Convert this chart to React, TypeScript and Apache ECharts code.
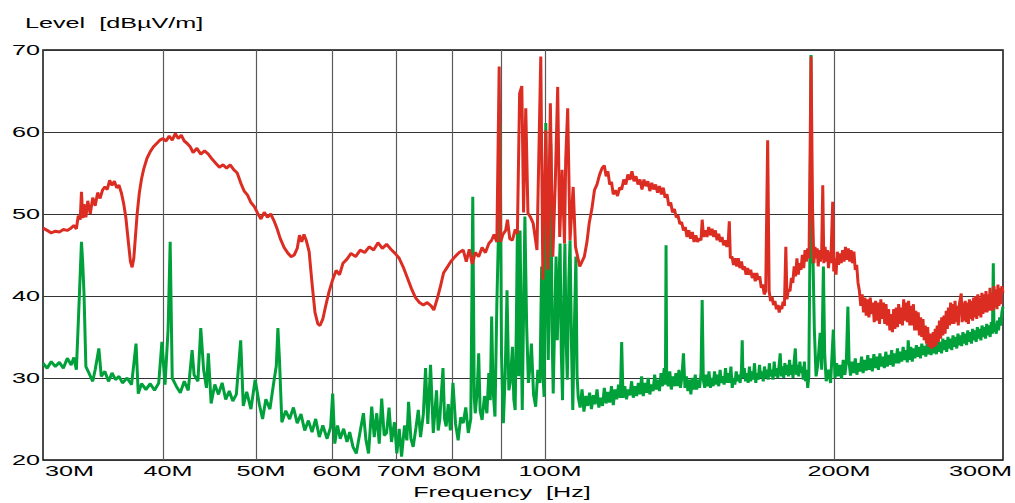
import React, { useEffect, useRef } from "react";
import * as echarts from "echarts";

// Frequency in MHz, level in dBµV/m
const RED: [number, number][] = [
[30.0,48.3],[30.3,48.0],[30.6,47.7],[30.9,47.9],[31.2,47.8],[31.5,48.1],[31.8,48.0],[32.1,48.3],[32.3,48.6],[32.5,48.2],[32.65,49.8],[32.8,49.3],[32.9,52.7],[33.0,49.5],[33.1,51.2],[33.25,49.6],[33.4,51.6],[33.6,50.0],[33.8,52.0],[34.0,51.0],[34.2,52.6],[34.4,51.9],[34.6,52.9],[34.8,53.3],[35.0,53.0],[35.2,54.1],[35.4,53.5],[35.6,54.0],[35.8,53.2],[36.0,53.5],[36.2,52.6],[36.4,51.3],[36.6,49.5],[36.8,46.8],[37.0,44.2],[37.15,43.5],[37.3,44.6],[37.45,47.3],[37.6,50.0],[37.8,52.6],[38.0,54.3],[38.2,55.5],[38.5,56.8],[38.8,57.6],[39.1,58.2],[39.4,58.6],[39.7,59.0],[40.0,59.2],[40.3,58.9],[40.6,59.5],[40.9,59.0],[41.2,59.8],[41.5,59.2],[41.8,59.6],[42.1,58.9],[42.4,58.6],[42.7,58.2],[43.0,57.5],[43.4,58.0],[43.8,57.3],[44.2,57.7],[44.6,57.3],[45.0,56.7],[45.4,56.2],[45.8,55.7],[46.2,56.0],[46.6,55.6],[47.0,56.0],[47.4,55.4],[47.8,55.0],[48.2,53.8],[48.6,52.8],[49.0,52.3],[49.4,51.4],[49.8,50.9],[50.2,50.1],[50.6,49.4],[51.0,50.2],[51.4,49.6],[51.8,50.0],[52.2,49.2],[52.6,48.2],[53.0,47.0],[53.5,45.9],[54.0,45.2],[54.4,44.8],[54.8,45.0],[55.2,45.8],[55.5,47.4],[55.8,46.6],[56.1,47.5],[56.4,46.8],[56.8,45.4],[57.2,41.5],[57.6,38.0],[58.0,36.6],[58.3,36.4],[58.7,37.2],[59.1,38.8],[59.6,40.6],[60.1,42.0],[60.6,43.1],[61.1,42.6],[61.6,44.0],[62.2,44.5],[62.8,45.2],[63.5,44.8],[64.2,45.6],[64.9,45.3],[65.6,46.0],[66.3,45.6],[67.0,46.5],[67.7,45.8],[68.4,46.3],[69.1,45.7],[69.8,45.2],[70.5,44.6],[71.2,43.5],[71.9,42.2],[72.6,40.9],[73.3,39.8],[74.0,39.2],[74.7,38.9],[75.4,39.2],[76.1,38.8],[76.6,38.3],[77.2,39.6],[77.8,41.1],[78.4,42.8],[79.0,43.4],[79.8,44.2],[80.6,44.8],[81.4,45.3],[82.2,45.6],[82.8,44.2],[83.4,45.7],[84.0,43.9],[84.6,45.3],[85.3,44.8],[86.0,45.9],[86.7,45.3],[87.4,46.4],[88.0,46.8],[88.5,47.5],[89.1,46.6],[89.6,68.0],[89.9,46.6],[90.4,47.5],[91.0,48.0],[91.4,49.3],[91.9,47.0],[92.5,46.8],[93.1,48.1],[93.6,47.6],[94.1,64.7],[94.6,65.6],[95.0,50.2],[95.5,62.9],[96.0,50.1],[96.6,49.6],[97.2,48.9],[98.1,45.6],[99.0,69.2],[99.5,42.0],[100.2,60.2],[100.7,43.2],[101.3,63.5],[101.9,44.8],[102.5,53.7],[103.1,65.5],[103.6,47.2],[104.2,55.4],[104.8,46.4],[105.1,56.6],[105.6,62.9],[106.2,46.8],[107.0,53.3],[107.6,46.0],[108.7,43.6],[109.9,44.8],[110.6,46.6],[111.2,48.9],[111.9,50.6],[112.6,52.9],[113.3,53.6],[114.0,54.8],[114.7,55.6],[115.3,55.9],[115.8,54.6],[116.3,55.2],[116.8,53.6],[117.3,53.9],[117.8,52.4],[118.4,52.9],[119.0,52.2],[119.6,53.2],[120.2,53.0],[120.8,54.2],[121.4,53.6],[122.0,54.8],[122.6,54.2],[123.2,55.2],[123.8,54.0],[124.4,54.6],[125.0,53.6],[125.6,54.2],[126.2,53.0],[126.8,54.2],[127.4,53.4],[128.0,54.0],[128.6,52.8],[129.2,53.8],[129.8,53.0],[130.4,53.6],[131.0,52.6],[131.6,53.4],[132.2,52.4],[132.8,53.2],[133.4,52.0],[134.0,52.4],[134.6,51.0],[135.2,51.4],[135.8,50.2],[136.4,50.6],[137.0,49.6],[137.6,49.8],[138.2,48.8],[138.8,49.0],[139.4,48.0],[140.0,48.4],[140.6,47.2],[141.2,48.0],[141.8,47.0],[142.4,47.8],[143.0,46.6],[143.6,47.4],[144.2,46.6],[144.8,47.0],[145.4,46.8],[145.8,49.3],[146.3,47.2],[146.9,48.0],[147.5,47.2],[148.1,48.4],[148.7,47.4],[149.3,48.2],[149.9,47.2],[150.5,48.0],[151.1,46.8],[151.7,47.6],[152.3,46.6],[152.9,47.2],[153.5,46.2],[154.1,46.8],[154.7,46.0],[155.2,46.6],[155.6,49.1],[156.0,44.6],[156.6,44.8],[157.2,43.8],[157.8,44.6],[158.4,43.6],[159.0,44.6],[159.6,43.4],[160.2,44.2],[160.8,43.2],[161.4,43.6],[162.0,42.6],[162.6,43.4],[163.2,42.6],[163.8,43.2],[164.4,42.2],[165.0,42.8],[165.6,41.8],[166.2,42.8],[166.8,42.0],[167.4,42.4],[168.0,41.0],[168.6,41.4],[169.2,40.2],[169.8,40.6],[170.6,59.0],[171.2,40.6],[171.8,39.4],[172.4,39.9],[173.0,38.9],[173.6,39.4],[174.2,38.4],[174.8,38.9],[175.4,38.0],[175.9,38.8],[176.5,38.4],[177.0,39.3],[177.6,38.8],[178.2,46.0],[178.7,39.6],[179.3,40.8],[180.0,40.6],[180.6,42.2],[181.2,41.6],[181.8,43.6],[182.4,42.4],[183.0,44.6],[183.6,42.6],[184.2,44.0],[184.8,43.2],[185.4,45.0],[186.0,43.4],[186.6,45.6],[187.2,44.2],[187.8,45.8],[188.4,44.6],[189.3,69.2],[190.0,50.5],[190.6,44.0],[191.1,46.0],[191.6,44.6],[192.1,45.8],[192.6,43.6],[193.1,45.6],[193.6,44.2],[194.2,45.6],[194.7,53.5],[195.2,44.0],[195.8,46.0],[196.4,44.2],[196.9,45.6],[197.4,43.4],[198.0,45.4],[198.5,44.0],[199.4,51.5],[199.9,43.0],[200.4,44.6],[201.0,42.6],[201.6,45.4],[202.2,43.8],[202.8,45.2],[203.5,44.0],[204.2,45.6],[204.9,44.2],[205.6,46.0],[206.3,44.4],[207.0,45.8],[207.7,44.2],[208.4,45.6],[209.1,44.0],[209.8,45.4],[210.5,43.2],[211.2,43.8],[211.9,41.6],
[212.6,40.6],[213.3,38.8],[214.0,40.2],[214.7,38.0],[215.4,39.8],[216.1,37.6],[216.8,39.6],[217.5,37.4],[218.2,39.8],[218.9,37.8],[219.6,39.2],[220.3,36.8],[221.0,39.4],[221.7,37.0],[222.4,39.2],[223.1,36.6],[223.8,39.6],[224.5,37.2],[225.2,39.2],[225.9,36.6],[226.6,39.0],[227.3,36.4],[228.0,38.4],[228.7,35.8],[229.4,37.8],[230.1,35.6],[230.8,38.4],[231.5,36.0],[232.2,38.6],[232.9,36.2],[233.6,39.0],[234.3,36.6],[235.0,38.6],[235.7,36.4],[236.4,39.6],[237.1,37.0],[237.8,39.2],[238.5,36.8],[239.2,39.4],[239.9,36.4],[240.6,38.8],[241.3,36.4],[242.0,39.0],[242.7,35.8],[243.4,38.2],[244.1,35.8],[244.8,38.0],[245.5,35.2],[246.2,37.4],[246.9,35.0],[247.6,37.2],[248.3,34.6],[249.0,36.4],[249.7,34.2],[250.4,36.2],[251.1,33.8],[251.8,35.4],[252.8,33.6],[253.8,35.6],[254.4,33.8],[255.0,36.0],[255.6,34.0],[256.2,36.4],[256.9,34.4],[257.6,37.0],[258.3,34.8],[259.0,37.4],[259.7,35.2],[260.4,37.6],[261.1,35.4],[261.8,38.2],[262.5,36.0],[263.2,38.6],[263.9,36.4],[264.6,39.2],[265.3,36.6],[266.0,39.0],[266.7,36.6],[267.4,39.4],[268.1,36.8],[268.8,38.8],[269.5,36.4],[270.2,39.0],[271.4,40.3],[272.0,36.8],[272.6,39.2],[273.3,37.0],[274.0,39.4],[274.7,36.8],[275.4,39.2],[276.1,36.6],[276.8,39.6],[277.5,37.2],[278.2,39.4],[278.9,37.0],[279.6,39.8],[280.3,37.4],[281.0,40.0],[281.7,37.2],[282.4,40.2],[283.1,37.6],[283.8,39.8],[284.5,37.4],[285.2,40.4],[285.9,37.8],[286.6,40.2],[287.3,38.0],[288.0,40.6],[288.7,38.0],[289.4,40.2],[290.1,38.2],[290.8,41.0],[291.5,38.2],[292.2,40.4],[292.9,38.2],[293.6,41.2],[294.3,38.6],[295.0,40.8],[295.7,38.4],[296.4,41.4],[297.1,38.8],[297.8,41.0],[298.5,39.0],[299.2,41.2],[300.0,40.4]
];

const GREEN: [number, number][] = [
[30.0,31.8],[30.3,31.2],[30.6,32.0],[30.9,31.4],[31.2,31.9],[31.5,31.2],[31.8,32.4],[32.1,31.6],[32.3,32.5],[32.5,31.0],[32.7,38.7],[32.9,46.6],[33.0,44.0],[33.1,40.3],[33.25,31.4],[33.5,30.6],[33.8,29.6],[34.0,31.0],[34.3,33.6],[34.5,30.2],[34.8,30.8],[35.1,29.6],[35.4,30.6],[35.7,29.8],[36.0,30.2],[36.3,29.4],[36.7,30.0],[37.1,29.2],[37.5,34.2],[37.7,28.1],[38.0,29.3],[38.4,28.6],[38.8,29.3],[39.2,28.5],[39.6,29.4],[39.9,34.4],[40.2,29.2],[40.5,36.0],[40.7,46.6],[40.9,30.0],[41.3,29.0],[41.7,28.2],[42.1,29.6],[42.5,28.5],[42.9,33.4],[43.1,30.4],[43.5,29.6],[43.8,36.1],[44.1,31.0],[44.4,28.8],[44.6,33.0],[44.9,26.9],[45.3,29.2],[45.7,28.0],[46.1,29.4],[46.5,27.4],[46.9,28.4],[47.3,27.2],[47.7,28.0],[48.2,34.6],[48.5,26.6],[48.9,28.3],[49.4,26.2],[49.9,29.8],[50.4,26.8],[50.8,25.0],[51.2,27.4],[51.7,26.2],[52.2,29.6],[52.5,31.5],[52.7,36.1],[52.9,32.2],[53.2,24.6],[53.7,26.0],[54.2,25.0],[54.7,26.4],[55.2,24.5],[55.7,25.6],[56.2,23.6],[56.7,24.8],[57.2,23.4],[57.7,25.0],[58.2,22.8],[58.7,24.2],[59.3,22.6],[59.8,24.0],[60.1,28.1],[60.4,22.0],[60.8,24.2],[61.2,22.6],[61.7,23.8],[62.2,22.2],[62.6,23.4],[63.1,21.6],[63.6,20.8],[64.2,23.5],[64.7,25.7],[65.1,22.4],[65.5,20.8],[66.0,26.5],[66.4,22.8],[66.8,25.7],[67.2,22.0],[67.6,27.5],[68.0,23.0],[68.4,23.3],[68.8,26.4],[69.2,22.2],[69.7,24.6],[70.1,20.8],[70.5,23.8],[70.9,20.4],[71.4,24.2],[71.8,22.4],[72.1,27.1],[72.5,22.6],[72.9,21.6],[73.4,24.0],[73.8,26.1],[74.2,22.8],[74.7,25.6],[75.1,31.2],[75.5,24.4],[76.0,31.6],[76.5,23.3],[77.1,28.5],[77.4,23.6],[77.7,24.9],[78.3,31.2],[78.6,25.0],[78.9,24.1],[79.3,26.8],[79.7,23.6],[80.2,29.4],[80.7,24.4],[81.2,22.4],[81.7,25.2],[82.2,24.5],[82.7,26.4],[83.2,23.3],[83.7,25.0],[84.1,52.1],[84.4,27.6],[84.6,25.7],[85.0,28.4],[85.3,33.0],[85.6,26.0],[86.0,24.9],[86.5,27.8],[87.0,25.7],[87.4,30.6],[87.7,27.3],[88.0,37.5],[88.3,28.5],[88.7,25.3],[89.1,39.1],[89.4,46.4],[89.8,61.0],[90.1,33.0],[90.5,24.5],[90.9,30.4],[91.3,40.7],[91.7,28.5],[92.0,29.4],[92.5,33.8],[92.8,27.4],[93.1,26.1],[93.4,38.0],[93.6,48.0],[93.9,30.2],[94.2,48.0],[94.5,34.0],[94.7,26.1],[95.0,38.0],[95.3,49.7],[95.7,36.4],[96.1,29.4],[96.5,31.6],[96.8,34.2],[97.3,28.0],[97.8,26.5],[98.3,31.0],[98.8,29.4],[99.2,43.6],[99.5,30.6],[99.8,27.7],[100.2,61.1],[100.5,40.0],[100.8,32.2],[101.1,44.6],[101.4,58.6],[101.7,36.0],[102.0,28.1],[102.4,38.2],[102.7,44.8],[103.0,34.6],[103.3,40.2],[103.7,46.4],[104.0,33.0],[104.3,27.3],[104.6,38.6],[104.9,46.4],[105.2,34.8],[105.5,29.8],[105.9,42.0],[106.2,46.8],[106.6,33.2],[106.9,26.1],[107.3,36.0],[107.7,44.8],[108.0,30.4],
[108.3,27.7],[108.8,26.4],[109.3,28.6],[109.8,25.9],[110.3,27.8],[110.8,26.6],[111.3,28.2],[111.8,26.2],[112.3,27.9],[112.8,26.8],[113.3,28.6],[113.8,26.4],[114.3,27.6],[114.8,26.6],[115.3,28.8],[115.8,26.9],[116.3,28.3],[116.8,27.0],[117.3,29.0],[117.8,26.7],[118.3,28.6],[118.8,27.4],[119.3,29.2],[119.8,27.6],[120.2,34.4],[120.6,27.6],[121.1,29.0],[121.6,27.4],[122.1,28.6],[122.6,27.9],[123.1,29.6],[123.6,27.6],[124.1,29.0],[124.6,27.8],[125.1,29.4],[125.6,28.0],[126.1,30.2],[126.6,27.8],[127.1,29.4],[127.6,28.2],[128.1,30.0],[128.6,28.0],[129.1,29.2],[129.6,28.4],[130.1,30.4],[130.6,28.6],[131.1,29.8],[131.6,28.4],[132.1,30.6],[132.6,29.0],[133.1,31.2],[133.5,29.2],[133.7,46.2],[133.9,30.0],[134.4,29.0],[134.9,30.8],[135.4,28.6],[135.9,30.2],[136.4,29.0],[136.9,30.6],[137.4,29.0],[137.9,31.0],[138.4,28.8],[138.9,30.2],[139.4,33.0],[139.9,28.8],[140.4,30.2],[140.9,28.4],[141.4,29.8],[141.9,28.0],[142.4,30.0],[142.9,28.6],[143.4,30.4],[143.9,28.6],[144.4,29.8],[144.9,28.8],[145.4,30.6],[145.8,39.5],[146.2,29.8],[146.7,28.8],[147.2,30.4],[147.7,29.0],[148.2,30.8],[148.7,28.8],[149.2,30.0],[149.7,29.0],[150.2,30.8],[150.7,29.2],[151.2,30.4],[151.7,29.0],[152.2,31.0],[152.7,29.4],[153.2,30.2],[153.7,29.2],[154.2,31.2],[154.7,29.4],[155.2,30.6],[155.7,29.4],[156.2,31.4],[156.7,28.8],[157.2,30.0],[157.7,29.2],[158.2,30.8],[158.7,29.6],[159.2,30.4],[159.7,29.4],[160.2,31.0],[160.5,34.6],[160.8,30.0],[161.3,31.2],[161.8,29.6],[162.3,30.6],[162.8,29.4],[163.3,31.4],[163.8,29.6],[164.3,30.8],[164.8,29.8],[165.3,31.8],[165.8,29.4],[166.3,30.6],[166.8,29.8],[167.3,31.6],[167.8,30.0],[168.3,30.8],[168.8,29.6],[169.3,31.4],[169.8,30.0],[170.3,31.0],[170.8,29.8],[171.3,31.8],[171.8,30.2],[172.3,31.0],[172.8,29.8],[173.3,32.0],[173.8,30.2],[174.3,31.2],[174.8,30.0],[175.3,31.4],[175.8,33.0],[176.3,30.2],[176.8,31.4],[177.3,30.0],[177.8,31.8],[178.3,30.4],[178.8,31.6],[179.3,30.2],[179.8,32.2],[180.3,30.4],[180.8,31.6],[181.3,30.0],[181.8,32.0],[182.3,33.6],[182.8,30.4],[183.3,31.6],[183.8,30.2],[184.3,32.0],[184.8,30.6],[185.3,31.4],[185.8,29.8],[186.3,32.0],[186.8,29.6],[187.3,31.0],[187.8,28.8],[188.3,30.2],[188.8,45.6],[189.3,69.4],[189.7,44.0],[190.2,44.6],[190.8,36.0],[191.6,30.2],[192.4,31.6],[193.5,35.5],[194.2,31.0],[195.0,43.6],[195.6,33.0],[196.3,29.6],[197.3,31.0],[198.4,29.4],[199.7,35.9],
[200.5,30.0],[201.3,31.8],[202.1,30.2],[202.9,31.6],[203.7,29.9],[204.5,32.2],[205.3,30.4],[206.0,31.8],[206.8,38.7],[207.4,31.9],[208.1,30.3],[208.9,32.0],[209.7,30.6],[210.5,32.4],[211.3,30.4],[212.1,31.8],[212.9,30.8],[213.7,32.6],[214.5,30.6],[215.3,32.2],[216.1,30.9],[216.9,32.8],[217.7,31.0],[218.5,32.4],[219.3,30.8],[220.1,32.9],[220.9,31.2],[221.7,32.6],[222.5,31.0],[223.3,33.0],[224.1,31.4],[224.9,32.6],[225.7,31.2],[226.5,33.2],[227.3,31.4],[228.1,32.8],[228.9,31.6],[229.7,33.4],[230.5,31.4],[231.3,33.0],[232.1,31.8],[232.9,33.6],[233.7,31.8],[234.5,33.2],[235.3,32.0],[236.1,33.8],[236.9,32.2],[237.7,33.4],[238.5,31.9],[239.0,34.6],[239.7,32.2],[240.5,33.8],[241.3,32.0],[242.1,33.6],[242.9,32.4],[243.7,34.0],[244.5,32.6],[245.3,33.8],[246.1,32.4],[246.9,34.2],[247.7,32.8],[248.5,33.9],[249.3,32.6],[250.1,34.2],[250.9,32.9],[251.7,34.0],[252.5,32.8],[253.3,34.4],[254.1,33.0],[254.9,34.2],[255.7,32.9],[256.5,34.6],[257.3,33.2],[258.1,34.4],[258.9,33.0],[259.7,34.8],[260.5,33.4],[261.3,34.6],[262.1,33.2],[262.9,35.0],[263.7,33.6],[264.5,34.8],[265.3,33.4],[266.1,35.2],[266.9,33.8],[267.7,35.0],[268.5,33.6],[269.3,35.4],[270.1,34.0],[270.9,35.2],[271.7,33.9],[272.5,35.6],[273.3,34.2],[274.1,35.4],[274.9,34.0],[275.7,35.8],[276.5,34.4],[277.3,35.6],[278.1,34.2],[278.9,36.0],[279.7,34.6],[280.5,35.8],[281.3,34.4],[282.1,36.2],[282.9,34.8],[283.7,36.0],[284.5,34.6],[285.3,36.4],[286.1,35.0],[286.9,36.2],[287.7,34.8],[288.5,36.6],[289.3,35.2],[290.1,36.4],[290.9,35.0],[291.7,36.8],[292.5,35.4],[293.1,44.0],[293.6,35.6],[294.4,36.6],[295.2,35.4],[296.0,37.0],[296.8,35.8],[297.6,37.4],[298.4,36.4],[299.2,38.0],[300.0,38.7]
];

const X_GRID_MHZ = [40, 50, 60, 70, 80, 90, 100, 200];
const X_LABEL_MHZ = [30, 40, 50, 60, 70, 80, 100, 200, 300];
const X_LABELS = ["30M", "40M", "50M", "60M", "70M", "80M", "100M", "200M", "300M"];
const Y_TICKS = [20, 30, 40, 50, 60, 70];
const TITLE_Y = "Level  [dBµV/m]";
const TITLE_X = "Frequency  [Hz]";

const RED_COLOR = "#dc2d22";
const GREEN_COLOR = "#00a13a";
const FONT = '"Liberation Sans", Arial, Helvetica, sans-serif';
const STRETCH = 1.68;

export default function App() {
  const ref = useRef<HTMLDivElement>(null);
  useEffect(() => {
    document.body.style.margin = "0";
    const chart = echarts.init(ref.current!, null, { renderer: "svg" });
    const lx = (f: number) => Math.log10(f);
    chart.setOption({
      animation: false,
      backgroundColor: "#fff",
      grid: { left: 43, top: 50, right: 12, bottom: 43, show: true, borderColor: "#111", borderWidth: 1.5, backgroundColor: "#fff" },
      xAxis: {
        type: "value",
        min: lx(30),
        max: lx(300),
        axisLine: { show: false },
        axisTick: { show: false, customValues: X_GRID_MHZ.map(lx) },
        axisLabel: { show: false, customValues: X_GRID_MHZ.map(lx) },
        splitLine: { show: true, lineStyle: { color: "#5a5a5a", width: 1.2 } },
      },
      yAxis: {
        type: "value",
        min: 20,
        max: 70,
        interval: 10,
        axisLine: { show: false },
        axisTick: { show: false },
        axisLabel: { show: false },
        splitLine: { show: true, lineStyle: { color: "#333", width: 1.2 } },
      },
      series: [
        {
          type: "line",
          name: "green",
          data: GREEN.map(([f, l]) => [lx(f), l]),
          showSymbol: false,
          lineStyle: { color: GREEN_COLOR, width: 3 },
          z: 2,
        },
        {
          type: "line",
          name: "red",
          data: RED.map(([f, l]) => [lx(f), l]),
          showSymbol: false,
          lineStyle: { color: RED_COLOR, width: 3 },
          z: 3,
        },
      ],
    });

    const px = (f: number, l: number) => chart.convertToPixel({ gridIndex: 0 }, [lx(f), l]) as number[];
    const graphics: any[] = [];
    const mkText = (text: string, x: number, y: number, align: string) => ({
      type: "text",
      x,
      y,
      scaleX: STRETCH,
      silent: true,
      style: { text, fill: "#000", fontSize: 15, fontFamily: FONT, align, verticalAlign: "middle" },
    });
    X_LABEL_MHZ.forEach((f, i) => {
      const [x, y] = px(f, 20);
      let align = "center";
      let xx = x + 5;
      if (i === 0) { align = "left"; xx = x + 2; }
      if (i === X_LABEL_MHZ.length - 1) { align = "right"; xx = x + 9; }
      graphics.push(mkText(X_LABELS[i], xx, y + 11, align));
    });
    Y_TICKS.forEach((v) => {
      const [x, y] = px(30, v);
      graphics.push(mkText(String(v), x - 3, y, "right"));
    });
    graphics.push(mkText(TITLE_Y, 25, 23, "left"));
    graphics.push(mkText(TITLE_X, 502, 492, "center"));
    chart.setOption({ graphic: graphics });
    return () => chart.dispose();
  }, []);
  return <div ref={ref} style={{ width: 1015, height: 503 }} />;
}
